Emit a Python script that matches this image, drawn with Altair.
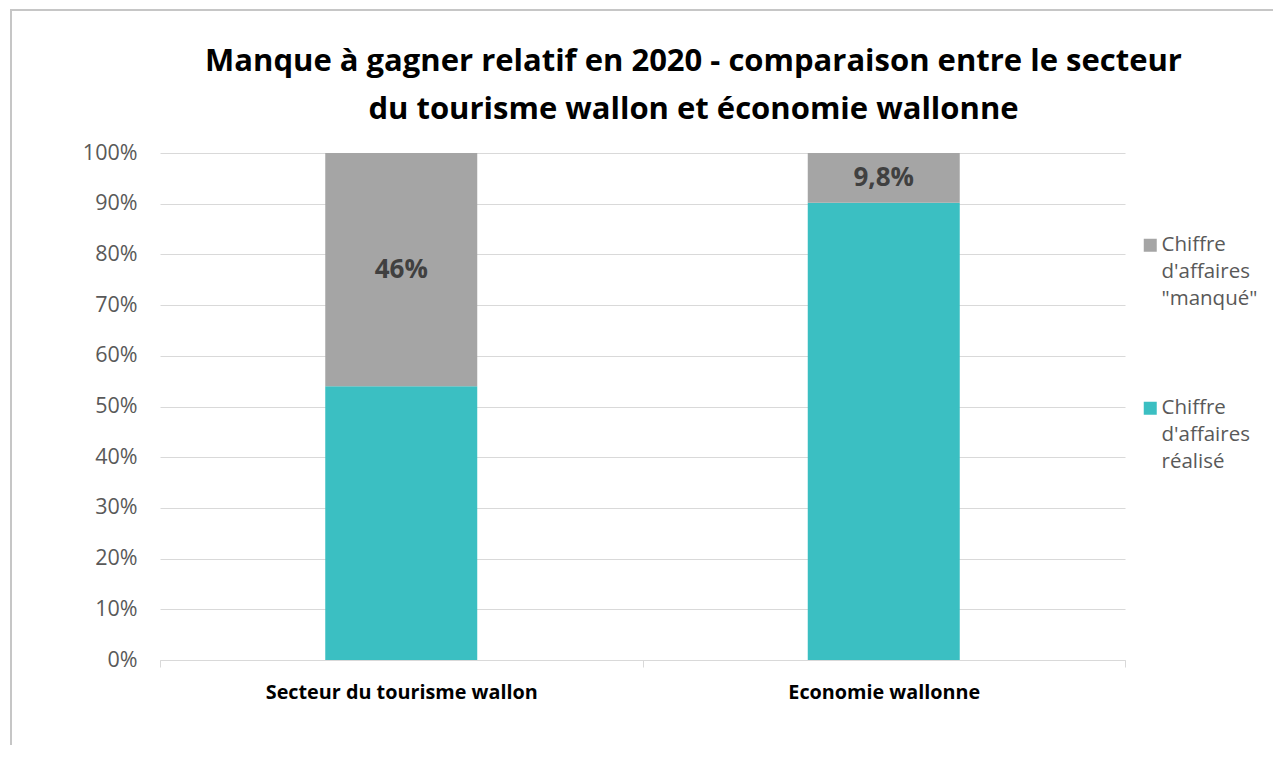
import altair as alt
import pandas as pd

categories = ["Secteur du tourisme wallon", "Economie wallonne"]
realise = [54.0, 90.2]
manque = [46.0, 9.8]
manque_labels = ["46%", "9,8%"]
series = ["Chiffre|d'affaires|\"manqué\"", "Chiffre|d'affaires|réalisé"]
colors = ["#A5A5A5", "#3BBFC2"]
y_ticks = [0, 10, 20, 30, 40, 50, 60, 70, 80, 90, 100]
title_lines = ["Manque à gagner relatif en 2020 - comparaison entre le secteur",
               "du tourisme wallon et économie wallonne"]

rows = []
for i, c in enumerate(categories):
    rows.append({"cat": c, "serie": series[1], "value": realise[i], "ord": 0, "label": ""})
    rows.append({"cat": c, "serie": series[0], "value": manque[i], "ord": 1, "label": manque_labels[i]})
df = pd.DataFrame(rows)

FONT = "Open Sans"
GRID = "#D9D9D9"

x_enc = alt.X(
    "cat:N", sort=categories, title=None,
    scale=alt.Scale(paddingInner=0, paddingOuter=0),
    axis=alt.Axis(labelFont=FONT, labelFontWeight="bold", labelFontSize=19.8,
                  labelColor="#000000", labelAngle=0, labelPadding=15,
                  tickBand="extent", ticks=True, tickSize=7, tickColor=GRID,
                  domainColor=GRID, domainWidth=1, grid=False, labelLimit=400),
)

base = alt.Chart(df)

frame = alt.Chart(pd.DataFrame({"k": [0]})).mark_rect(
    fillOpacity=0, stroke="#C6C6C6", strokeWidth=2
).encode(x=alt.value(-149), x2=alt.value(1300), y=alt.value(-143), y2=alt.value(700))

bars = base.mark_bar(width=alt.RelativeBandSize(0.315)).encode(
    x=x_enc,
    y=alt.Y("value:Q", stack="zero", scale=alt.Scale(domain=[0, 100]), title=None,
            axis=alt.Axis(values=y_ticks, labelExpr="datum.value + '%'",
                          labelFont=FONT, labelFontSize=21.5, labelColor="#595959",
                          labelPadding=23, domain=False, ticks=False,
                          grid=True, gridColor=GRID, gridWidth=1)),
    color=alt.Color("serie:N", scale=alt.Scale(domain=series, range=colors),
                    legend=alt.Legend(title=None, orient="none", legendX=980, legendY=82,
                                      symbolType="square", symbolSize=169,
                                      symbolStrokeWidth=0,
                                      labelFont=FONT, labelFontSize=20.5, labelColor="#595959",
                                      labelExpr="split(datum.label, '|')",
                                      rowPadding=88, labelOffset=1, labelLimit=300,
                                      direction="vertical")),
    order=alt.Order("ord:Q"),
)

text = base.transform_stack(
    stack="value", groupby=["cat"], as_=["v0", "v1"], sort=[alt.SortField("ord")]
).transform_filter("datum.ord == 1").transform_calculate(
    mid="(datum.v0 + datum.v1) / 2"
).mark_text(font=FONT, fontWeight="bold", fontSize=26, color="#404040", baseline="middle").encode(
    x=alt.X("cat:N", sort=categories),
    y=alt.Y("mid:Q"),
    text="label:N",
)

chart = alt.layer(frame, bars, text).properties(
    width=965, height=507,
    padding={"left": 152, "top": 145, "right": 148, "bottom": 85},
    autosize=alt.AutoSizeParams(type="none"),
    title=alt.Title(title_lines, font=FONT, fontSize=31, fontWeight="bold", color="#000000",
                    anchor="middle", frame="group", dx=51, dy=121, lineHeight=48),
).configure(
    style={"guide-label": {"lineHeight": 27}}
).configure_view(stroke=None)

chart.save("out.html", embed_options={"renderer": "svg", "actions": False})
